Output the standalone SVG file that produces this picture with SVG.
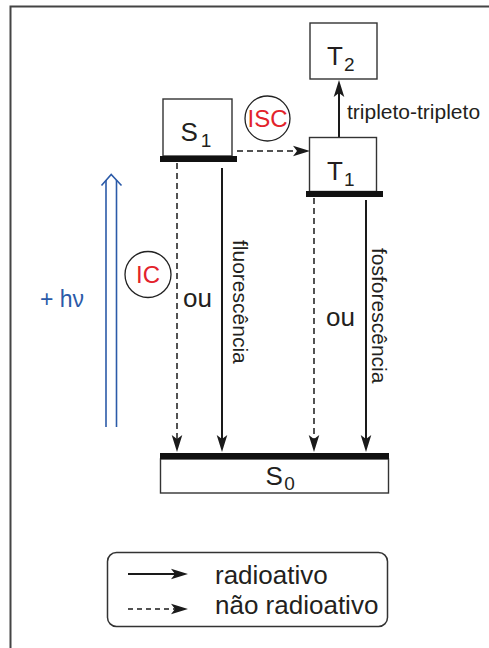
<svg xmlns="http://www.w3.org/2000/svg" width="489" height="648" viewBox="0 0 489 648">
<style>
  text { font-family: "Liberation Sans", Arial, sans-serif; fill: #231f20; }
  .state { font-size: 26px; }
  .sub { font-size: 19px; }
  .big { font-size: 26px; }
  .vert { font-size: 21px; }
  .red { fill: #e3232b; font-size: 24px; }
  .box { fill: #fff; stroke: #333; stroke-width: 1.4; }
  .bar { fill: #111; }
  .solid { stroke: #1a1a1a; stroke-width: 2; fill: none; marker-end: url(#ah); }
  .dash { stroke: #1a1a1a; stroke-width: 1.5; fill: none; stroke-dasharray: 6 4; marker-end: url(#ah); }
  .ring { fill: #fff; stroke: #222; stroke-width: 1.3; }
  .blue { stroke: #2b5aa8; stroke-width: 1.6; fill: none; }
</style>
<defs>
  <marker id="ah" viewBox="-6 -6 19 12" markerWidth="19" markerHeight="12" refX="0" refY="0" orient="auto" markerUnits="userSpaceOnUse">
    <path d="M12,0 L-5,-5.3 L-1,0 L-5,5.3 Z" fill="#1a1a1a"/>
  </marker>
</defs>

<rect x="10.5" y="6.5" width="520" height="700" fill="none" stroke="#444" stroke-width="2"/>

<g id="connectors">
  <line class="dash" x1="237" y1="151" x2="298" y2="151"/>
  <line class="solid" x1="339" y1="137" x2="339" y2="92"/>
  <line class="dash" x1="177" y1="163" x2="177" y2="440"/>
  <line class="solid" x1="222" y1="168" x2="222" y2="440"/>
  <line class="dash" x1="314" y1="198" x2="314" y2="440"/>
  <line class="solid" x1="366" y1="200" x2="366" y2="440"/>
</g>

<g id="T2">
  <rect class="box" x="310" y="23" width="67" height="56"/>
  <text class="state" x="327" y="65">T<tspan class="sub" dx="1" dy="6">2</tspan></text>
</g>

<g id="S1">
  <rect class="box" x="163" y="99" width="69" height="57"/>
  <rect class="bar" x="160" y="156" width="77" height="6"/>
  <text class="state" x="180.5" y="141">S<tspan class="sub" dx="3" dy="6">1</tspan></text>
</g>

<g id="T1">
  <rect class="box" x="309.5" y="137.5" width="67" height="54"/>
  <rect class="bar" x="306" y="191" width="77" height="6"/>
  <text class="state" x="327" y="179.5">T<tspan class="sub" dx="1" dy="6">1</tspan></text>
</g>

<g id="S0">
  <rect class="box" x="160.5" y="459" width="228" height="34"/>
  <rect class="bar" x="160" y="453" width="229" height="6"/>
  <text class="state" x="265.5" y="485">S<tspan class="sub" dx="1.5" dy="5">0</tspan></text>
</g>

<g id="ISC">
  <circle class="ring" cx="267.5" cy="118.5" r="22.5"/>
  <text class="red" x="267.5" y="127" text-anchor="middle">ISC</text>
</g>

<g id="IC">
  <circle class="ring" cx="148" cy="274.5" r="23"/>
  <text class="red" x="148" y="283" text-anchor="middle">IC</text>
</g>

<g id="excitation">
  <line class="blue" x1="106" y1="427" x2="106" y2="180"/>
  <line class="blue" x1="116.5" y1="427" x2="116.5" y2="180"/>
  <polyline class="blue" points="101.5,185.5 111.2,174.5 121.5,185.5"/>
  <text x="40" y="307" style="font-size:23px; fill:#2b5aa8">+ hν</text>
</g>

<g id="labels">
  <text class="vert" transform="translate(233,240) rotate(90)">fluorescência</text>
  <text class="vert" transform="translate(372,248) rotate(90)">fosforescência</text>
  <text class="big" x="183" y="307">ou</text>
  <text class="big" x="326" y="326">ou</text>
  <text x="347" y="119" style="font-size:21px">tripleto-tripleto</text>
</g>

<g id="legend">
  <rect x="107.5" y="552.5" width="280" height="74" rx="9" fill="#fff" stroke="#333" stroke-width="1.5"/>
  <line class="solid" x1="128" y1="574" x2="176" y2="574"/>
  <line class="dash" x1="128" y1="609" x2="176" y2="609" style="stroke-dasharray:5 4"/>
  <text class="big" x="215" y="584">radioativo</text>
  <text class="big" x="215" y="614">não radioativo</text>
</g>
</svg>
